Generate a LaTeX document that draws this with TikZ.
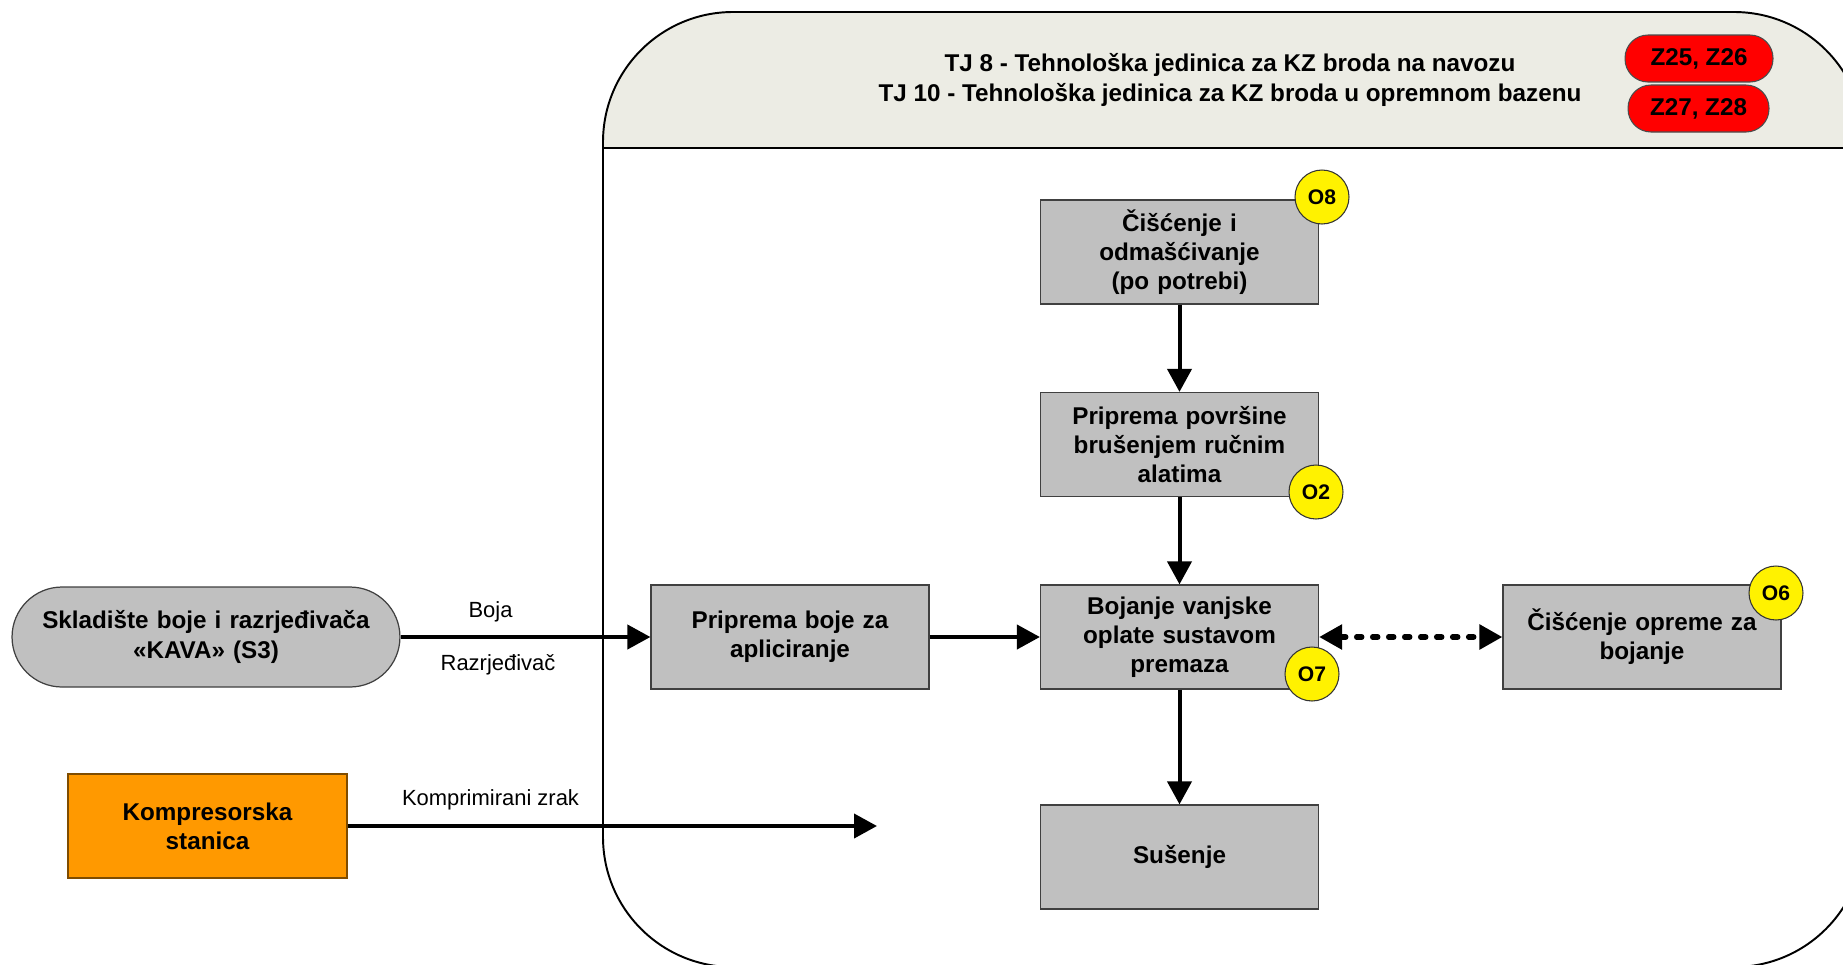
\documentclass[tikz,border=0pt]{standalone}
\usepackage{fontspec}
\setmainfont{Liberation Sans}
\usepackage{xcolor}
\usetikzlibrary{arrows.meta,positioning,calc}

\definecolor{boxgray}{HTML}{C0C0C0}
\definecolor{headfill}{HTML}{ECECE4}
\definecolor{kompfill}{HTML}{FF9900}
\definecolor{kompline}{HTML}{7F4C00}
\newcommand{\procfont}{\bfseries\fontsize{13.8}{16.6}\selectfont}
\newcommand{\lblfont}{\fontsize{12.5}{15}\selectfont}
\newcommand{\oznfont}{\bfseries\fontsize{12}{13}\selectfont}

\begin{document}
\begin{tikzpicture}[x=0.02cm, y=-0.02cm,
	box/.style={draw=black!75, fill=boxgray, line width=0.7pt, minimum width=5.56cm, minimum height=2.08cm, text width=5.4cm, align=center, inner sep=0pt, font=\procfont},
	badge/.style={draw=black!80, fill=yellow, circle, minimum size=1.08cm, inner sep=0pt, line width=0.6pt, font=\oznfont},
	zpill/.style={draw=black!70, fill=red, rounded corners=0.46cm, minimum height=0.94cm, inner sep=0pt, line width=0.6pt, font=\procfont},
	flow/.style={line width=0.08cm, -{Triangle[length=0.46cm,width=0.48cm]}},
	dotflow/.style={line width=0.11cm, dash pattern=on 0.1cm off 0.22cm, line cap=round, {Triangle[length=0.46cm,width=0.48cm]}-{Triangle[length=0.46cm,width=0.48cm]}},
	lbl/.style={font=\lblfont, inner sep=0pt}]
		\useasboundingbox (0,0) rectangle (1843,964);

		% okvir tehnoloske jedinice
		\begin{scope}
			\clip (0,0) rectangle (1843,148);
			\fill[headfill, rounded corners=2.6cm] (603,12) rectangle (1864,967);
		\end{scope}
		\begin{scope}
			\clip (0,0) rectangle (1843,964);
			\draw[line width=1.1pt, rounded corners=2.6cm] (603,12) rectangle (1864,967);
			\draw[line width=1.1pt] (603,148) -- (1864,148);
		\end{scope}

		\node[align=center, font=\procfont] (naslov) at (1230,80) {TJ 8 - Tehnološka jedinica za KZ broda na navozu\\TJ 10 - Tehnološka jedinica za KZ broda u opremnom bazenu};
		\node[zpill, minimum width=2.96cm] (z1) at (1699,58.5) {Z25, Z26};
		\node[zpill, minimum width=2.82cm] (z2) at (1698.5,108.5) {Z27, Z28};

		% vanjski izvori
		\node[box, minimum width=7.76cm, minimum height=2cm, text width=7.5cm, rounded corners=1cm] (skladiste) at (206,637) {Skladište boje i razrjeđivača\\«KAVA» (S3)};
		\node[box, draw=kompline, fill=kompfill, minimum width=5.58cm] (kompresor) at (207.5,826) {Kompresorska\\stanica};
		\coordinate (zrakEnd) at (877,826);

		% procesi
		\node[box] (pripremaBoje) at (790,637) {Priprema boje za\\apliciranje};
		\node[box] (ciscenje) at (1179.5,252) {Čišćenje i\\odmašćivanje\\(po potrebi)};
		\node[box] (povrsina) at (1179.5,444.5) {Priprema površine\\brušenjem ručnim\\alatima};
		\node[box] (bojanje) at (1179.5,637) {Bojanje vanjske\\oplate sustavom\\premaza};
		\node[box] (susenje) at (1179.5,857) {Sušenje};
		\node[box] (oprema) at (1642,637) {Čišćenje opreme za\\bojanje};

		\draw[flow] (skladiste) -- (pripremaBoje) node[lbl, pos=.36, yshift=0.5cm] {Boja} node[lbl, pos=.39, yshift=-0.56cm] {Razrjeđivač};
		\draw[flow] (kompresor) -- (zrakEnd) node[lbl, pos=.27, yshift=0.52cm] {Komprimirani zrak};
		\draw[flow] (pripremaBoje) -- (bojanje);
		\draw[flow] (ciscenje) -- (povrsina);
		\draw[flow] (povrsina) -- (bojanje);
		\draw[flow] (bojanje) -- (susenje);
		\draw[dotflow] (bojanje) -- (oprema);

		% oznake
		\node[badge] (o8) at (1322,197) {O8};
		\node[badge] (o2) at (1316,492) {O2};
		\node[badge] (o7) at (1312,674) {O7};
		\node[badge] (o6) at (1776,593) {O6};
	\end{tikzpicture}
\end{document}
